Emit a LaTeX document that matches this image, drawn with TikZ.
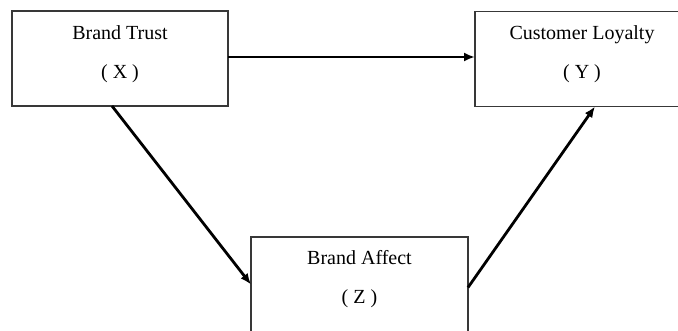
\documentclass[tikz,border=0pt]{standalone}
\usepackage{fontspec}
\setmainfont{Liberation Serif}
\usetikzlibrary{arrows.meta,calc}
\begin{document}
\begin{tikzpicture}[x=1pt,y=-1pt,
  box/.style={draw=black!78,line width=1.5pt,minimum width=216pt,minimum height=95pt,inner sep=0pt,outer sep=0pt},
  lbl/.style={anchor=base,inner sep=0pt,font=\fontsize{20}{24}\selectfont},
  arr/.style={line width=2.8pt,-{Latex[length=11pt,width=9pt]}}]
\clip (0,0) rectangle (678,331);
\node[box] (X) at (120,58.5) {};
\node[box] (Y) at (583,59) {};
\node[box,minimum width=217pt] (Z) at (359.5,284.5) {};
\node[lbl] (xt) at (120,39.5) {Brand Trust};
\node[lbl] (xl) at (120,78.5) {( X )};
\node[lbl] (yt) at (582,39.5) {Customer Loyalty};
\node[lbl] (yl) at (582,78.5) {( Y )};
\node[lbl] (zt) at (359.5,265) {Brand Affect};
\node[lbl] (zl) at (359.5,304) {( Z )};
\draw[arr] ([yshift=1.5pt]X.east) -- ([yshift=2pt]Y.west);
\draw[arr] ([xshift=100pt]X.south west) -- (Z.west);
\draw[arr] ([yshift=-3pt]Z.east) -- ([xshift=120pt]Y.south west);
\end{tikzpicture}
\end{document}
